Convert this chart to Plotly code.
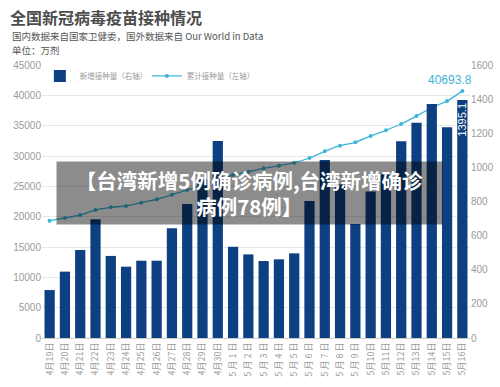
import plotly.graph_objects as go

dates = ["4月19日", "4月20日", "4月21日", "4月22日", "4月23日", "4月24日", "4月25日",
         "4月26日", "4月27日", "4月28日", "4月29日", "4月30日", "5 月 1 日", "5 月 2 日",
         "5 月 3 日", "5 月 4 日", "5 月 5 日", "5 月 6 日", "5 月 7 日", "5 月 8 日", "5 月 9 日",
         "5月10日", "5月11日", "5月12日", "5月13日", "5月14日", "5月15日", "5月16日"]

daily = [281, 389, 516, 696, 481, 418, 453, 453, 643, 785, 930, 1155, 535, 490,
         451, 461, 496, 803, 1043, 900, 668, 858, 960, 1153, 1262, 1372, 1235, 1395.1]

cumulative = [19334, 19780, 20274, 21098, 21540, 21760, 22310, 22860, 23625, 24394,
              25218, 26044, 26868, 27417, 27967, 28400, 28900, 29670, 30770, 31700,
              32250, 33300, 34230, 35270, 36590, 37960, 39060, 40693.8]

left_ticks = [0, 5000, 10000, 15000, 20000, 25000, 30000, 35000, 40000, 45000]
right_ticks = [0, 200, 400, 600, 800, 1000, 1200, 1400, 1600]

BAR = "#0c4080"
LINE = "#3db5da"
GRAY = "#9a9a9a"
FONT = "Liberation Sans, Noto Sans CJK SC, sans-serif"
CJK = "Noto Sans CJK SC, sans-serif"

bar_text = ["" for _ in daily[:-1]] + [f"{daily[-1]}"]

fig = go.Figure()
fig.add_trace(go.Bar(
    x=dates, y=daily, name="新增接种量（右轴）", yaxis="y2",
    marker=dict(color=BAR, line=dict(width=0)),
    text=bar_text, textposition="inside", textangle=-90, insidetextanchor="end",
    constraintext="none",
    textfont=dict(color="white", size=11, family=FONT),
))
fig.add_trace(go.Scatter(
    x=dates, y=cumulative, name="累计接种量（左轴）", mode="lines+markers",
    line=dict(color=LINE, width=1.3, shape="spline", smoothing=0.5),
    marker=dict(color=LINE, size=4),
))

fig.update_layout(
    width=500, height=387,
    margin=dict(l=42, r=30, t=65, b=49, autoexpand=False),
    paper_bgcolor="white", plot_bgcolor="white",
    bargap=0.33,
    font=dict(family=FONT, color=GRAY, size=10),
    xaxis=dict(
        type="category", range=[-0.5, len(dates) - 0.5], autorange=False,
        tickangle=-90, tickfont=dict(size=9, color=GRAY, family=CJK),
        showline=True, linecolor="#cccccc", linewidth=1, ticks="", showgrid=False,
        automargin=False,
    ),
    yaxis=dict(
        range=[0, 45000], tickvals=left_ticks, ticktext=[str(v) for v in left_ticks],
        showgrid=True, gridcolor="#e8e8e8", gridwidth=1, zeroline=False,
        tickfont=dict(size=10, color=GRAY), ticks="", showline=False, automargin=False,
    ),
    yaxis2=dict(
        range=[0, 1600], tickvals=right_ticks, overlaying="y", side="right",
        showgrid=False, zeroline=False, tickfont=dict(size=10, color=GRAY),
        ticks="", showline=False, automargin=False,
    ),
    showlegend=True,
    legend=dict(
        orientation="h", x=-0.005, y=0.96, xanchor="left", yanchor="middle",
        font=dict(size=7.5, color=GRAY, family=CJK), bgcolor="rgba(0,0,0,0)",
        itemwidth=30, tracegroupgap=0, entrywidth=62, entrywidthmode="pixels",
    ),
    title=dict(
        text="全国新冠病毒疫苗接种情况", x=0.02, xanchor="left", xref="container",
        y=1 - 18 / 387, yanchor="middle", yref="container",
        font=dict(size=16, color="#4d4d4d", family=CJK, weight=700),
    ),
)

fig.add_annotation(
    text="国内数据来自国家卫健委，国外数据来自 Our World in Data",
    xref="paper", yref="paper", x=(10 - 42) / 428, y=(338 - 36) / 273,
    xanchor="left", yanchor="middle", showarrow=False,
    font=dict(size=9.5, color="#555555", family=CJK),
)
fig.add_annotation(
    text="单位：万剂",
    xref="paper", yref="paper", x=(10 - 42) / 428, y=(338 - 50) / 273,
    xanchor="left", yanchor="middle", showarrow=False,
    font=dict(size=9.5, color="#555555", family=CJK),
)
fig.add_annotation(
    text=f"{cumulative[-1]}", x=dates[-1], y=cumulative[-1], xref="x", yref="y",
    xanchor="right", yanchor="bottom", xshift=12, yshift=2, showarrow=False,
    font=dict(size=12, color=LINE, family=FONT),
)
fig.add_annotation(
    text="【台湾新增5例确诊病例,台湾新增确诊<br>病例78例】",
    xref="paper", yref="paper", x=(249.5 - 42) / 428, y=(338 - 193) / 273,
    xanchor="center", yanchor="middle", showarrow=False,
    width=385, height=62, bgcolor="rgba(0,0,0,0.45)", borderpad=0,
    font=dict(size=20.5, color="white", family=CJK, weight=700),
    align="center",
)

fig.write_html("out.html")
